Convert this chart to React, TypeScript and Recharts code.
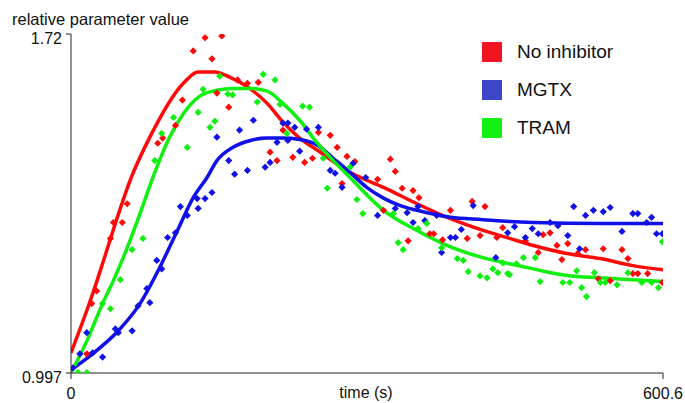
import React from "react";
import {
  ComposedChart, Line, Scatter, XAxis, YAxis, Legend,
} from "recharts";

const FONT = "'Liberation Sans', Arial, sans-serif";

// fitted curves: [time s, relative value]
const redFit: [number, number][] = [
  [0, 1.04], [22, 1.166], [32, 1.23], [45, 1.316], [60, 1.408], [80, 1.5],
  [114, 1.615], [129, 1.639], [146, 1.639], [161, 1.628], [182, 1.603],
  [199, 1.572], [215, 1.532], [232, 1.498], [250, 1.472], [283, 1.425],
  [317, 1.393], [351, 1.358], [385, 1.326], [418, 1.301], [445, 1.284],
  [469, 1.269], [503, 1.252], [537, 1.241], [570, 1.226], [600.6, 1.217],
];
const blueFit: [number, number][] = [
  [0, 1.004], [22, 1.038], [48, 1.087], [70, 1.145], [90, 1.222], [108, 1.301],
  [124, 1.371], [138, 1.414], [148, 1.45], [164, 1.478], [182, 1.493],
  [199, 1.498], [215, 1.498], [232, 1.495], [250, 1.483], [266, 1.455],
  [283, 1.425], [300, 1.393], [317, 1.37], [334, 1.354], [351, 1.344],
  [385, 1.329], [418, 1.324], [445, 1.32], [469, 1.318], [537, 1.316], [600.6, 1.316],
];
const greenFit: [number, number][] = [
  [0, 0.998], [16, 1.065], [32, 1.145], [43, 1.194], [57, 1.264], [70, 1.337],
  [82, 1.408], [100, 1.5], [114, 1.55], [131, 1.588], [148, 1.6], [164, 1.604],
  [182, 1.604], [199, 1.598], [215, 1.572], [232, 1.536], [250, 1.487],
  [266, 1.45], [283, 1.414], [317, 1.344], [351, 1.301], [385, 1.266],
  [418, 1.243], [445, 1.23], [469, 1.219], [503, 1.205], [537, 1.2],
  [570, 1.196], [600.6, 1.192],
];

// measured points
const redPts: [number, number][] = [
  [136, 1.712], [153, 1.716], [124, 1.684], [143, 1.667], [113, 1.579], [88, 1.487],
  [93, 1.498], [106, 1.525], [148, 1.594], [160, 1.564], [169, 1.622], [179, 1.615],
  [190, 1.617], [215, 1.515], [209, 1.45], [202, 1.468], [225, 1.457], [237, 1.446],
  [245, 1.455], [263, 1.504], [270, 1.478], [280, 1.459], [288, 1.448], [251, 1.51],
  [275, 1.401], [324, 1.453], [329, 1.427], [311, 1.41], [336, 1.391], [347, 1.386],
  [353, 1.371], [317, 1.344], [342, 1.279], [364, 1.294], [368, 1.294], [385, 1.344],
  [407, 1.363], [420, 1.352], [377, 1.281], [402, 1.284], [415, 1.29], [432, 1.286],
  [438, 1.307], [57, 1.358], [43, 1.318], [52, 1.318], [40, 1.284], [26, 1.172],
  [21, 1.145], [16, 1.038], [479, 1.292], [486, 1.296], [461, 1.279], [474, 1.254],
  [493, 1.269], [504, 1.273], [498, 1.239], [514, 1.252], [522, 1.26], [540, 1.262],
  [559, 1.26], [565, 1.241], [547, 1.194], [535, 1.198], [570, 1.209], [575, 1.209],
  [585, 1.209], [600, 1.19],
];
const bluePts: [number, number][] = [
  [185, 1.536], [171, 1.515], [148, 1.5], [160, 1.45], [166, 1.421], [179, 1.429],
  [197, 1.436], [202, 1.446], [209, 1.489], [220, 1.493], [220, 1.53], [227, 1.521],
  [239, 1.517], [251, 1.521], [232, 1.47], [263, 1.429], [268, 1.423], [215, 1.53],
  [275, 1.393], [286, 1.444], [299, 1.414], [311, 1.333], [329, 1.348], [341, 1.339],
  [347, 1.318], [359, 1.322], [352, 1.352], [371, 1.333], [376, 1.254], [385, 1.286],
  [390, 1.286], [396, 1.303], [408, 1.354], [431, 1.243], [443, 1.296], [111, 1.352],
  [128, 1.369], [136, 1.369], [143, 1.382], [129, 1.348], [118, 1.333], [98, 1.286],
  [106, 1.296], [87, 1.237], [92, 1.219], [77, 1.177], [80, 1.147], [68, 1.14],
  [62, 1.087], [45, 1.091], [48, 1.083], [22, 1.04], [32, 1.031], [9, 1.038],
  [16, 1.083], [2, 1.008], [510, 1.352], [522, 1.333], [530, 1.344], [540, 1.341],
  [547, 1.35], [570, 1.337], [575, 1.337], [589, 1.329], [584, 1.318], [594, 1.294],
  [600, 1.294], [559, 1.299], [504, 1.29], [516, 1.262], [468, 1.305], [474, 1.294],
  [450, 1.309], [461, 1.286], [494, 1.311], [486, 1.318],
];
const greenPts: [number, number][] = [
  [92, 1.508], [85, 1.45], [104, 1.542], [118, 1.478], [134, 1.602], [129, 1.553],
  [141, 1.521], [146, 1.534], [151, 1.63], [159, 1.592], [164, 1.59], [195, 1.634],
  [207, 1.622], [189, 1.575], [235, 1.566], [242, 1.564], [219, 1.508], [256, 1.455],
  [212, 1.57], [260, 1.391], [283, 1.436], [290, 1.367], [296, 1.337], [327, 1.337],
  [332, 1.275], [337, 1.26], [361, 1.316], [352, 1.305], [392, 1.241], [398, 1.237],
  [403, 1.213], [415, 1.204], [422, 1.2], [428, 1.219], [433, 1.211], [443, 1.209],
  [376, 1.264], [73, 1.284], [62, 1.26], [50, 1.196], [40, 1.134], [32, 1.145],
  [7, 0.998], [16, 0.998], [600, 1.277], [438, 1.232], [445, 1.207], [452, 1.23],
  [459, 1.243], [471, 1.243], [476, 1.192], [499, 1.19], [506, 1.19], [513, 1.215],
  [518, 1.179], [523, 1.16], [531, 1.211], [537, 1.19], [542, 1.19], [554, 1.185],
  [565, 1.211], [579, 1.19], [589, 1.19], [596, 1.179],
];

const xTicks = [0, 600.6];
const yTicks = [0.997, 1.72];

const series = [
  { name: "No inhibitor", fit: redFit, pts: redPts, line: "#ff0808", swatch: "#f0141e" },
  { name: "MGTX", fit: blueFit, pts: bluePts, line: "#1010e8", swatch: "#3c46c8" },
  { name: "TRAM", fit: greenFit, pts: greenPts, line: "#10f010", swatch: "#14f014" },
];

const toRows = (a: [number, number][]) => a.map(([x, y]) => ({ x, y }));

const Diamond = (props: any) => {
  const { cx, cy, fill } = props;
  if (cx == null || cy == null) return null;
  const r = 3.6;
  return <path d={`M${cx},${cy - r}L${cx + r},${cy}L${cx},${cy + r}L${cx - r},${cy}Z`} fill={fill} />;
};

const YTick = (props: any) => (
  <text x={props.x} y={props.y + 6} textAnchor="end" dominantBaseline="middle"
    fontSize={16} fontFamily={FONT} fill="#111">
    {props.payload.value}
  </text>
);

const XTick = (props: any) => (
  <text x={props.x} y={props.y + 14} textAnchor="middle" dominantBaseline="middle"
    fontSize={16} fontFamily={FONT} fill="#111">
    {props.payload.value}
  </text>
);

const LegendBox = () => (
  <div style={{ fontFamily: FONT, fontSize: 19, color: "#111" }}>
    {series.map((s) => (
      <div key={s.name} style={{ display: "flex", alignItems: "center", height: 20, marginBottom: 18 }}>
        <span style={{ width: 20, height: 20, background: s.swatch, display: "inline-block", marginRight: 15 }} />
        <span style={{ lineHeight: "20px" }}>{s.name}</span>
      </div>
    ))}
  </div>
);

export default function App() {
  return (
    <div style={{ position: "absolute", left: 0, top: 0, width: 685, height: 403, background: "#fff" }}>
      <ComposedChart width={685} height={403} margin={{ top: 34, right: 22, bottom: 0, left: 0 }}>
        <XAxis
          type="number"
          dataKey="x"
          domain={[0, 600.6]}
          ticks={xTicks}
          allowDataOverflow
          height={30}
          stroke="#222"
          tickSize={6}
          tickMargin={2}
          tick={<XTick />}
          label={() => (
            <text x={366} y={398} textAnchor="middle" fontSize={16} fontFamily={FONT} fill="#111">
              time (s)
            </text>
          )}
        />
        <YAxis
          type="number"
          dataKey="y"
          domain={[0.997, 1.72]}
          ticks={yTicks}
          allowDataOverflow
          width={71}
          stroke="#222"
          tickSize={5}
          tickMargin={4}
          tick={<YTick />}
          label={() => (
            <text x={12} y={25} fontSize={16.5} fontFamily={FONT} fill="#111">
              relative parameter value
            </text>
          )}
        />
        <Legend
          layout="horizontal"
          verticalAlign="middle"
          align="center"
          content={<LegendBox />}
          wrapperStyle={{ top: 42, left: 482, width: 200 }}
        />
        {series.map((s) => (
          <Scatter key={s.name + "-pts"} data={toRows(s.pts)} fill={s.line}
            shape={<Diamond />} isAnimationActive={false} legendType="none" />
        ))}
        {series.map((s) => (
          <Line key={s.name + "-fit"} data={toRows(s.fit)} dataKey="y" type="monotone"
            stroke={s.line} strokeWidth={3.5} dot={false} activeDot={false}
            isAnimationActive={false} legendType="none" />
        ))}
      </ComposedChart>
    </div>
  );
}
